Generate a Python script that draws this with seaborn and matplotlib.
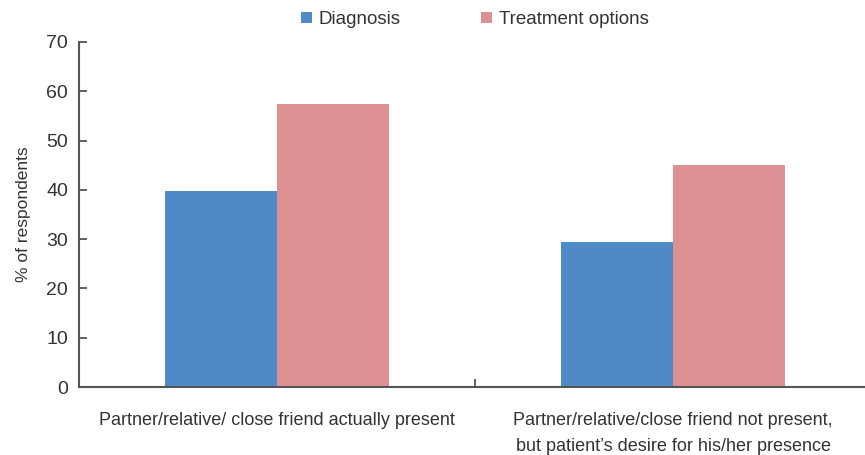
import matplotlib
matplotlib.use("Agg")
import matplotlib.pyplot as plt
import seaborn as sns
import pandas as pd

categories = [
    "Partner/relative/ close friend actually present",
    "Partner/relative/close friend not present,\nbut patient\u2019s desire for his/her presence",
]
series_names = ["Diagnosis", "Treatment options"]
diagnosis = [39.8, 29.4]
treatment = [57.4, 45.0]
y_ticks = [0, 10, 20, 30, 40, 50, 60, 70]

df = pd.DataFrame({
    "category": categories * 2,
    "series": [series_names[0]] * 2 + [series_names[1]] * 2,
    "value": diagnosis + treatment,
})

sns.set_style("white")
plt.rcParams["font.family"] = ["Liberation Sans", "DejaVu Sans"]
text_color = "#333333"
axis_color = "#555555"

fig = plt.figure(figsize=(8.65, 4.55), dpi=100)
ax = fig.add_axes([79 / 865, 1 - 387 / 455, 792 / 865, 345 / 455])

sns.barplot(
    data=df, x="category", y="value", hue="series",
    palette=["#4E8AC8", "#DE9195"], width=0.567, saturation=1,
    errorbar=None, ax=ax, linewidth=0,
)

ax.set_xlim(-0.5, 1.5)
ax.set_ylim(0, 70)
ax.set_yticks(y_ticks)
ax.set_yticklabels([str(t) for t in y_ticks], fontsize=14, color=text_color)
ax.tick_params(axis="y", left=True, direction="in", length=6, width=1.3,
               color=axis_color, pad=8)
ax.set_xticks([0, 1])
ax.set_xticklabels(categories, fontsize=13, color=text_color, linespacing=1.7)
ax.tick_params(axis="x", which="major", bottom=True, length=0, pad=18)
ax.set_xticks([0.5], minor=True)
ax.tick_params(axis="x", which="minor", bottom=True, direction="in", length=6,
               width=1.3, color=axis_color)

ax.set_xlabel("")
ax.set_ylabel("% of respondents", fontsize=12.5, color=text_color, labelpad=11)

for side in ["top", "right"]:
    ax.spines[side].set_visible(False)
for side in ["left", "bottom"]:
    ax.spines[side].set_color(axis_color)
    ax.spines[side].set_linewidth(1.5)
    ax.spines[side].set_zorder(3)

leg = ax.legend(
    loc="upper center", bbox_to_anchor=(475 / 865, 1.0), bbox_transform=fig.transFigure,
    ncol=2, frameon=False, fontsize=13.5, handlelength=0.58, handleheight=0.58,
    handletextpad=0.35, columnspacing=4.3, borderaxespad=0.2,
)
for t in leg.get_texts():
    t.set_color(text_color)

fig.savefig("out.png", dpi=100)
